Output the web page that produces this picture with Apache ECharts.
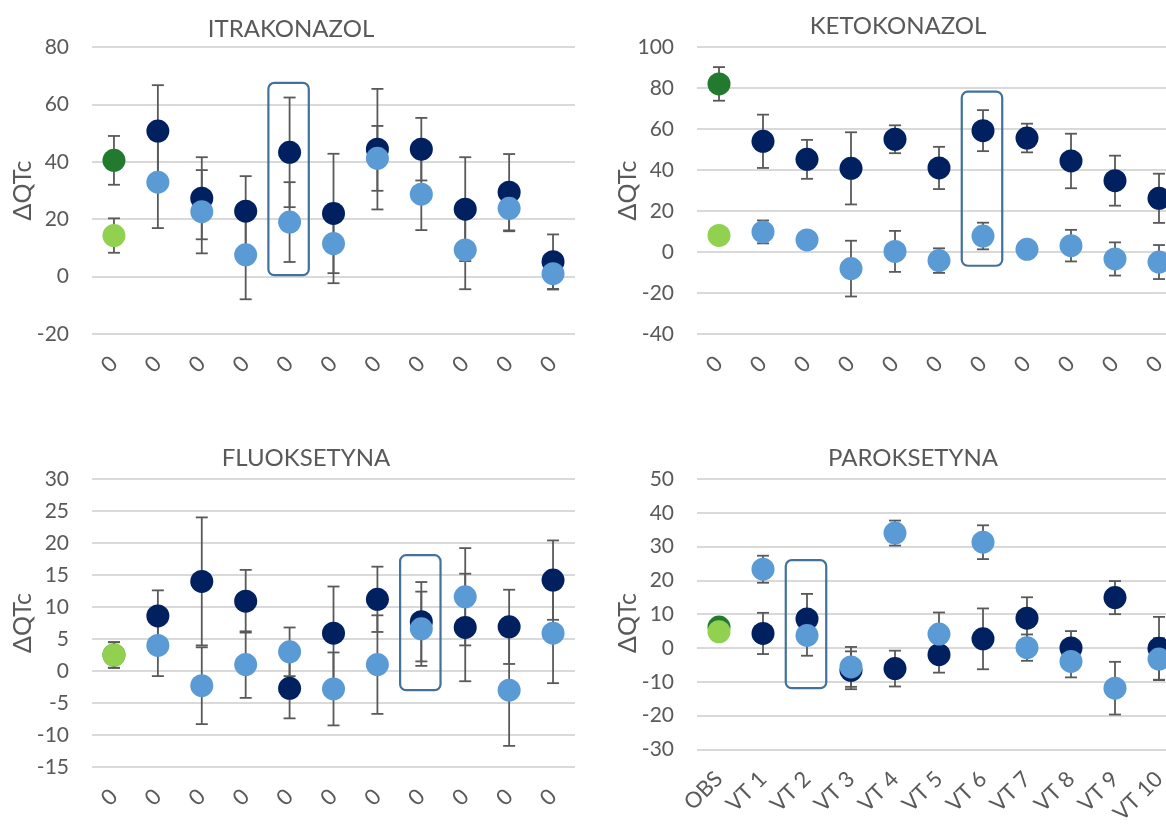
<!DOCTYPE html>
<html>
<head>
<meta charset="utf-8">
<script src="https://cdn.jsdelivr.net/npm/echarts@6/dist/echarts.min.js"></script>
<style>
  html, body { margin: 0; padding: 0; background: #ffffff; overflow: hidden; }
  #chart { width: 1190px; height: 827px; }
</style>
</head>
<body>
<div id="chart"></div>
<script>
// Category labels: the lower-right panel shows the study arms, the other three show "0"
const armLabels = ['OBS', 'VT 1', 'VT 2', 'VT 3', 'VT 4', 'VT 5', 'VT 6', 'VT 7', 'VT 8', 'VT 9', 'VT 10'];
const zeroLabels = ['0', '0', '0', '0', '0', '0', '0', '0', '0', '0', '0'];
const yName = 'ΔQTc';

// ITRAKONAZOL
const itraDark = [40.5, 50.7, 27.3, 22.8, 43.3, 22.0, 44.4, 44.4, 23.5, 29.4, 5.2];
const itraDarkErr = [8.5, 16.0, 14.3, 12.2, 19.1, 20.8, 21.0, 10.9, 18.1, 13.3, 9.5];
const itraLight = [14.3, 32.9, 22.6, 7.6, 19.0, 11.5, 41.2, 28.7, 9.3, 23.8, 1.0];
const itraLightErr = [6.0, 16.0, 14.5, 15.5, 13.9, 13.8, 11.3, 12.5, 13.7, 8.0, 5.5];
const itraBox = [4, 0.5, 67.5];
const itraTicks = [-20, 80, 20];

// KETOKONAZOL
const ketoDark = [82.0, 54.0, 45.2, 40.8, 55.0, 41.0, 59.2, 55.6, 44.4, 34.8, 26.2];
const ketoDarkErr = [8.2, 13.0, 9.5, 17.6, 6.8, 10.3, 10.0, 7.0, 13.3, 12.2, 12.0];
const ketoLight = [8.1, 9.8, 5.9, -8.1, 0.3, -4.2, 7.8, 1.3, 3.1, -3.4, -4.9];
const ketoLightErr = [2.0, 5.6, 2.5, 13.6, 10.0, 6.0, 6.5, 2.5, 7.7, 8.1, 8.3];
const ketoBox = [6, -6.7, 78.2];
const ketoTicks = [-40, 100, 20];

// FLUOKSETYNA
const fluoDark = [2.5, 8.6, 14.0, 10.9, -2.7, 5.9, 11.2, 7.7, 6.8, 6.9, 14.2];
const fluoDarkErr = [2.0, 4.0, 10.0, 4.9, 4.7, 7.3, 5.1, 6.2, 8.4, 5.8, 6.2];
const fluoLight = [2.5, 4.0, -2.3, 1.0, 3.0, -2.8, 1.0, 6.6, 11.6, -3.0, 5.9];
const fluoLightErr = [2.0, 4.8, 6.0, 5.2, 3.8, 5.7, 7.7, 5.8, 7.6, 8.7, 7.8];
const fluoBox = [7, -3.0, 18.1];
const fluoTicks = [-15, 30, 5];

// PAROKSETYNA
const paroDark = [6.2, 4.3, 8.6, -6.6, -6.1, -2.0, 2.7, 8.8, 0.0, 14.9, -0.1];
const paroDarkErr = [1.0, 6.1, 7.4, 5.6, 5.3, 5.3, 9.0, 6.2, 5.0, 4.9, 9.3];
const paroLight = [4.8, 23.3, 3.7, -5.6, 34.0, 4.1, 31.3, 0.1, -4.0, -11.9, -3.3];
const paroLightErr = [1.0, 4.0, 6.0, 5.9, 3.7, 6.4, 5.0, 3.9, 4.7, 7.8, 6.2];
const paroBox = [2, -11.9, 26.0];
const paroTicks = [-30, 50, 10];

const FONT = 'Lato, "Open Sans", sans-serif';
const TEXT = '#595959';
const NAVY = '#002060';
const SKY = '#5B9BD5';
const GREEN_DARK = '#217A2E';
const GREEN_LIGHT = '#92D050';
const ERR = '#595959';
const BOX = '#41719C';

const panels = [
  { title: 'ITRAKONAZOL', titleX: 286, titleY: 12, nameX: 23,
    grid: { left: 92, top: 47, width: 483, height: 287 },
    labels: zeroLabels, ticks: itraTicks,
    dark: itraDark, darkErr: itraDarkErr, light: itraLight, lightErr: itraLightErr, box: itraBox },
  { title: 'KETOKONAZOL', titleX: 893, titleY: 9, nameX: 628,
    grid: { left: 697, top: 47, width: 484, height: 287 },
    labels: zeroLabels, ticks: ketoTicks,
    dark: ketoDark, darkErr: ketoDarkErr, light: ketoLight, lightErr: ketoLightErr, box: ketoBox },
  { title: 'FLUOKSETYNA', titleX: 301, titleY: 441, nameX: 23,
    grid: { left: 92, top: 479, width: 483, height: 288 },
    labels: zeroLabels, ticks: fluoTicks,
    dark: fluoDark, darkErr: fluoDarkErr, light: fluoLight, lightErr: fluoLightErr, box: fluoBox },
  { title: 'PAROKSETYNA', titleX: 908, titleY: 441, nameX: 628,
    grid: { left: 697, top: 479, width: 484, height: 288 },
    labels: armLabels, ticks: paroTicks,
    dark: paroDark, darkErr: paroDarkErr, light: paroLight, lightErr: paroLightErr, box: paroBox }
];

// Vertical whisker with a cap at each end
function renderErrorBar(params, api) {
  const x = api.value(0);
  const lo = api.coord([x, api.value(1)]);
  const hi = api.coord([x, api.value(2)]);
  const half = 6;
  const style = { stroke: ERR, lineWidth: 1.8 };
  return {
    type: 'group',
    children: [
      { type: 'line', shape: { x1: lo[0], y1: lo[1], x2: hi[0], y2: hi[1] }, style },
      { type: 'line', shape: { x1: hi[0] - half, y1: hi[1], x2: hi[0] + half, y2: hi[1] }, style },
      { type: 'line', shape: { x1: lo[0] - half, y1: lo[1], x2: lo[0] + half, y2: lo[1] }, style }
    ]
  };
}

// Rounded outline around one category
function renderBox(params, api) {
  const x = api.value(0);
  const lo = api.coord([x, api.value(1)]);
  const hi = api.coord([x, api.value(2)]);
  const band = api.size([1, 0])[0];
  const w = band * 0.92;
  return {
    type: 'rect',
    shape: { x: lo[0] - w / 2 - 1, y: hi[1], width: w, height: lo[1] - hi[1], r: 6 },
    style: { fill: 'none', stroke: BOX, lineWidth: 2.2 }
  };
}

function whiskers(values, errs) {
  return values.map((v, i) => [i, v - errs[i], v + errs[i]]);
}

function points(values, firstColor) {
  return values.map((v, i) => i === 0 ? { value: v, itemStyle: { color: firstColor } } : v);
}

const option = {
  animation: false,
  backgroundColor: '#ffffff',
  textStyle: { fontFamily: FONT },
  title: panels.map(p => ({
    text: p.title, left: p.titleX, top: p.titleY, textAlign: 'center',
    textStyle: { fontFamily: FONT, fontSize: 24, fontWeight: 'normal', color: TEXT }
  })),
  // vertical axis titles, centred on each plot's height
  graphic: panels.map(p => ({
    type: 'text', x: p.nameX, y: p.grid.top + p.grid.height / 2, rotation: Math.PI / 2,
    style: { text: yName, fontFamily: FONT, fontSize: 25, fill: TEXT,
      align: 'center', verticalAlign: 'middle' },
    silent: true
  })),
  grid: panels.map(p => Object.assign({ containLabel: false }, p.grid)),
  xAxis: panels.map((p, k) => ({
    type: 'category', gridIndex: k, data: p.labels, boundaryGap: true,
    axisLine: { show: false }, axisTick: { show: false },
    axisLabel: { interval: 0, rotate: 45, margin: 26, fontFamily: FONT, fontSize: 22, color: TEXT }
  })),
  yAxis: panels.map((p, k) => ({
    type: 'value', gridIndex: k, min: p.ticks[0], max: p.ticks[1], interval: p.ticks[2],
    axisLine: { show: false }, axisTick: { show: false },
    axisLabel: { margin: 23, fontFamily: FONT, fontSize: 21, color: TEXT },
    splitLine: { show: true, lineStyle: { color: '#D9D9D9', width: 2 } }
  })),
  series: []
};

panels.forEach((p, k) => {
  option.series.push(
    { type: 'custom', xAxisIndex: k, yAxisIndex: k, z: 1, renderItem: renderBox,
      data: [p.box], silent: true },
    { type: 'custom', xAxisIndex: k, yAxisIndex: k, z: 2, renderItem: renderErrorBar,
      data: whiskers(p.dark, p.darkErr), silent: true },
    { type: 'custom', xAxisIndex: k, yAxisIndex: k, z: 2, renderItem: renderErrorBar,
      data: whiskers(p.light, p.lightErr), silent: true },
    { type: 'scatter', xAxisIndex: k, yAxisIndex: k, z: 3, symbolSize: 23,
      itemStyle: { color: NAVY, opacity: 1 }, data: points(p.dark, GREEN_DARK) },
    { type: 'scatter', xAxisIndex: k, yAxisIndex: k, z: 4, symbolSize: 23,
      itemStyle: { color: SKY, opacity: 1 }, data: points(p.light, GREEN_LIGHT) }
  );
});

const chart = echarts.init(document.getElementById('chart'), null, { renderer: 'canvas' });
chart.setOption(option);
</script>
</body>
</html>
